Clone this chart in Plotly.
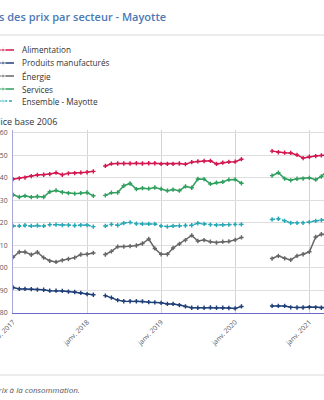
import pandas as pd
import plotly.graph_objects as go

# Monthly index, Jan 2017 - Apr 2021 (missing months are None)
months = pd.date_range("2017-01-01", "2021-04-01", freq="MS")

alimentation = [139.4, 139.8, 140.1, 140.8, 141.3, 141.4, 141.7, 142.3, 141.4, 142.0, 142.1, 142.3, 142.5, 142.9,
                None,
                145.3, 146.3, 146.4, 146.4, 146.4, 146.5, 146.4, 146.5, 146.5, 146.2, 146.2, 146.2, 146.4, 146.1,
                147.0, 147.3, 147.5, 147.6, 146.2, 146.8, 147.1, 147.2, 148.3,
                None, None, None, None,
                151.9, 151.4, 151.2, 151.1, 150.2, 148.8, 149.4, 149.7, 150.0, 150.1]

produits = [91.2, 90.6, 90.6, 90.5, 90.3, 90.2, 89.8, 89.8, 89.7, 89.4, 89.2, 88.8, 88.3, 88.0,
            None,
            87.6, 86.7, 85.6, 85.1, 85.1, 85.1, 85.0, 84.7, 84.6, 84.4, 83.9, 83.9, 83.4, 82.8,
            82.2, 82.2, 82.2, 82.3, 82.2, 82.2, 82.1, 81.9, 82.8,
            None, None, None, None,
            83.0, 83.0, 83.0, 82.4, 82.3, 82.3, 82.5, 82.4, 82.2, 82.2]

energie = [104.7, 107.0, 107.0, 105.8, 106.9, 104.5, 103.1, 102.6, 103.3, 103.9, 104.5, 105.9, 106.0, 106.6,
           None,
           105.9, 107.3, 109.4, 109.4, 109.6, 109.9, 110.8, 112.8, 108.6, 106.0, 106.0, 108.8, 110.6, 112.3,
           114.4, 111.9, 112.3, 111.6, 111.2, 111.6, 111.7, 112.4, 113.5,
           None, None, None, None,
           104.1, 105.3, 104.2, 103.5, 105.3, 106.0, 107.1, 113.7, 114.9, 114.6]

services = [132.5, 131.5, 132.0, 131.4, 131.7, 131.5, 133.8, 134.4, 133.6, 133.2, 133.0, 133.2, 133.5, 132.0,
            None,
            132.2, 133.4, 133.5, 136.5, 137.5, 135.0, 135.4, 135.2, 135.7, 135.1, 134.3, 134.8, 134.3, 136.2,
            135.6, 139.5, 139.4, 137.3, 137.9, 138.2, 139.2, 139.3, 137.6,
            None, None, None, None,
            141.0, 142.3, 139.7, 138.9, 139.6, 139.7, 140.0, 139.2, 140.6, 143.5]

ensemble = [118.6, 118.6, 118.9, 118.6, 118.8, 118.6, 119.2, 119.2, 119.0, 119.0, 118.8, 119.0, 119.0, 118.3,
            None,
            118.6, 119.3, 118.9, 119.9, 120.2, 119.6, 119.5, 119.5, 119.5, 118.6, 118.3, 118.6, 118.7, 118.8,
            118.9, 119.8, 119.5, 119.2, 119.0, 119.1, 119.2, 119.3, 119.3,
            None, None, None, None,
            121.5, 121.8, 120.9, 120.0, 120.0, 120.0, 120.3, 120.9, 121.2, 121.5]

year_ticks = ["2017-01-01", "2018-01-01", "2019-01-01", "2020-01-01", "2021-01-01"]
year_labels = ["janv. 2017", "janv. 2018", "janv. 2019", "janv. 2020", "janv. 2021"]
y_ticks = [80, 90, 100, 110, 120, 130, 140, 150, 160]

series = [
    ("Alimentation", alimentation, "#d3174f", "solid"),
    ("Produits manufacturés", produits, "#1f3f78", "solid"),
    ("Énergie", energie, "#666666", "solid"),
    ("Services", services, "#2e9f5d", "solid"),
    ("Ensemble - Mayotte", ensemble, "#27a8b6", "3px,2px"),
]

W, H = 324, 400
FONT = "Open Sans"

fig = go.Figure()

for name, values, color, dash in series:
    fig.add_trace(go.Scatter(
        x=months, y=values, name=name, mode="lines+markers",
        connectgaps=False,
        line=dict(color=color, width=1.5, dash=dash),
        marker=dict(symbol="cross", size=3.6, color=color),
        xaxis="x", yaxis="y", showlegend=False,
    ))

# Hand-built compact legend on a helper axis measured in pixels
legend_rows = [50, 63, 76, 89, 101]
for (name, values, color, dash), row in zip(series, legend_rows):
    fig.add_trace(go.Scatter(
        x=[-6, 3, 14], y=[row, row, row], mode="lines+markers",
        line=dict(color=color, width=1.5, dash=dash),
        marker=dict(symbol="cross", size=[0, 3.6, 0], color=color),
        xaxis="x2", yaxis="y2", showlegend=False, hoverinfo="skip",
    ))
    fig.add_annotation(x=20, y=row, xref="x2", yref="y2", text=name,
                       showarrow=False, xanchor="left", yanchor="middle",
                       font=dict(family=FONT, size=8.2, color="#333333"))

fig.update_layout(
    width=W, height=H,
    margin=dict(l=0, r=0, t=0, b=0, autoexpand=False),
    paper_bgcolor="white", plot_bgcolor="white",
    font=dict(family=FONT, color="#555555"),
    xaxis=dict(
        domain=[13 / W, 1], type="date",
        range=["2016-12-31 20:00", "2021-03-14"],
        tickvals=year_ticks, ticktext=year_labels, tickangle=-45,
        tickfont=dict(size=6.8, color="#555555"),
        ticklabelstandoff=2, ticklabeloverflow="allow", automargin=False,
        showgrid=True, gridcolor="#d4d4d4", gridwidth=1,
        showline=True, linecolor="#6b6bc6", linewidth=1,
        ticks="", zeroline=False, anchor="y",
    ),
    yaxis=dict(
        domain=[1 - 312.7 / H, 1 - 130 / H],
        range=[80, 161.3], tickvals=y_ticks,
        tickfont=dict(size=6.8, color="#555555"),
        ticklabelstandoff=3, ticklabeloverflow="allow", automargin=False,
        showgrid=True, gridcolor="#dedede", gridwidth=1,
        showline=True, linecolor="#a8a8d8", linewidth=1,
        ticks="", zeroline=False, anchor="x",
    ),
    xaxis2=dict(domain=[0, 0.25], range=[0, 0.25 * W], visible=False,
                fixedrange=True, anchor="y2"),
    yaxis2=dict(domain=[1 - 110 / H, 1 - 40 / H], range=[110, 40], visible=False,
                fixedrange=True, anchor="x2"),
)

# Title, unit label, separators and source line
fig.add_annotation(x=168 / W, y=1 - 17 / H, xref="paper", yref="paper",
                   text="Indices des prix par secteur - Mayotte", showarrow=False,
                   xanchor="right", yanchor="middle",
                   font=dict(family=FONT, size=11, color="#4a79b6", weight=600))
fig.add_annotation(x=59 / W, y=1 - 121 / H, xref="paper", yref="paper",
                   text="Indice base 2006", showarrow=False,
                   xanchor="right", yanchor="middle",
                   font=dict(family=FONT, size=9, color="#333333"))
fig.add_annotation(x=82 / W, y=1 - 389 / H, xref="paper", yref="paper",
                   text="<i>Source : Insee, indices des prix à la consommation.</i>",
                   showarrow=False, xanchor="right", yanchor="middle",
                   font=dict(family=FONT, size=8, color="#555555"))
for py in (35, 375):
    fig.add_shape(type="line", xref="paper", yref="paper",
                  x0=0, x1=1, y0=1 - py / H, y1=1 - py / H,
                  line=dict(color="#e6e6e6", width=1.5))

fig.write_html("out.html")
